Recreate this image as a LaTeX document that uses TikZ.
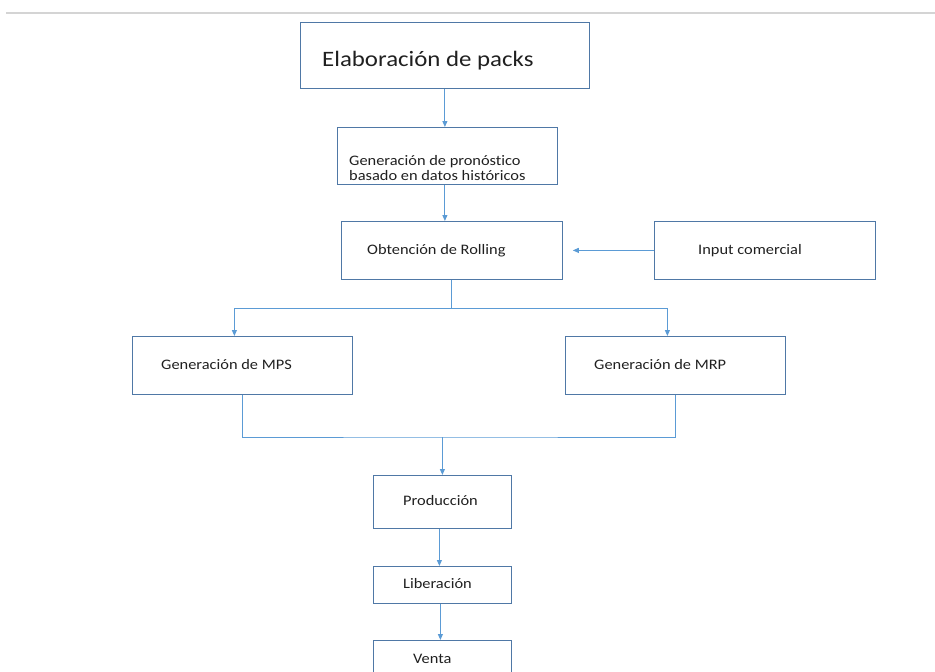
\documentclass[tikz,border=0pt]{standalone}
\usepackage{fontspec}
\setmainfont[FakeStretch=1.13,Ligatures={NoCommon,NoRare}]{Carlito}
\usetikzlibrary{arrows.meta,calc}
\definecolor{boxc}{HTML}{4F78A6}
\definecolor{linec}{HTML}{5B9BD5}
\definecolor{txtc}{HTML}{202020}
\definecolor{rulec}{HTML}{D4D4D4}
\begin{document}
\begin{tikzpicture}[x=1pt,y=-1pt,
 box/.style={draw=boxc,line width=0.8pt,inner sep=0pt,anchor=north west},
 lbl/.style={text=txtc,inner sep=0pt,anchor=base west,font=\fontsize{14.5}{15}\selectfont},
 big/.style={lbl,font=\fontsize{22}{26}\selectfont},
 conn/.style={draw=linec,line width=1pt},
 arr/.style={conn,-{Triangle[length=6pt,width=5pt]}}]
\useasboundingbox (0,0) rectangle (935,672);
\clip (0,0) rectangle (935,672);
\fill[rulec] (6,12) rectangle (935,14);
% boxes
\node[box,minimum width=289pt,minimum height=66pt] (packs) at (300,22) {};
\node[box,minimum width=220pt,minimum height=57pt] (pron) at (337,127) {};
\node[box,minimum width=221pt,minimum height=58pt] (roll) at (341,221) {};
\node[box,minimum width=221pt,minimum height=58pt] (input) at (654,221) {};
\node[box,minimum width=220pt,minimum height=58pt] (mps) at (132,336) {};
\node[box,minimum width=220pt,minimum height=58pt] (mrp) at (565,336) {};
\node[box,minimum width=138pt,minimum height=53pt] (prod) at (373,475) {};
\node[box,minimum width=138pt,minimum height=37pt] (lib) at (373,566) {};
\node[box,minimum width=138pt,minimum height=50pt] (venta) at (373,640) {};
% texts
\node[big] (tpacks) at (322,66) {Elaboración de packs};
\node[lbl,align=left] (tpron) at (349,180) {Generación de pronóstico\\basado en datos históricos};
\node[lbl] (troll) at (367,254) {Obtención de Rolling};
\node[lbl] (tinput) at (698,254) {Input comercial};
\node[lbl] (tmps) at (161,369) {Generación de MPS};
\node[lbl] (tmrp) at (594,369) {Generación de MRP};
\node[lbl] (tprod) at (403,505) {Producción};
\node[lbl] (tlib) at (403,588) {Liberación};
\node[lbl] (tventa) at (413,663) {Venta};
% connectors
\draw[arr] (packs.south) -- (packs.south |- pron.north);
\draw[arr] (packs.south |- pron.south) -- (packs.south |- roll.north);
\draw[arr,shorten >=10pt] (input.west) -- (roll.east);
\coordinate (split) at (roll.south |- 0,308);
\draw[conn] (roll.south) -- (split);
\draw[arr] (split) -| ([xshift=-8pt]mps.north);
\draw[arr] (split) -| ([xshift=-8pt]mrp.north);
\coordinate (join) at (prod.north |- 0,437);
\draw[conn] (mps.south) |- (join) -| (mrp.south);
\draw[arr] (join) -- (prod.north);
\draw[arr] ([xshift=-3pt]prod.south) -- ([xshift=-3pt]lib.north);
\draw[arr] ([xshift=-2pt]lib.south) -- ([xshift=-2pt]venta.north);
\end{tikzpicture}
\end{document}
